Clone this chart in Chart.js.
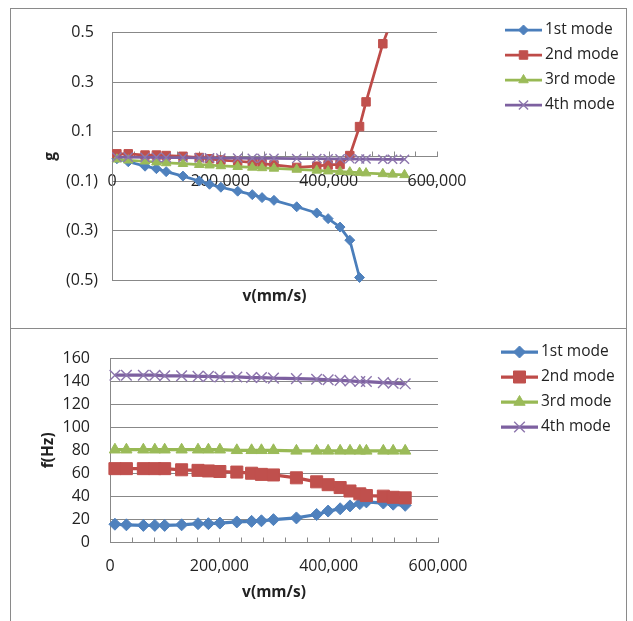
<!DOCTYPE html>
<html>
<head>
<meta charset="utf-8">
<script src="https://cdn.jsdelivr.net/npm/chart.js@4.4.1/dist/chart.umd.min.js"></script>
<style>
  body { margin: 0; background: #fff; }
  .panel { position: absolute; left: 10px; width: 617px; height: 321px; box-sizing: border-box; border: 1px solid #8a8a8a; background: #fff; }
  #p1 { top: 8px; }
  #p2 { top: 328px; }
  canvas { display: block; }
</style>
</head>
<body>
<div class="panel" id="p1"><canvas id="gChart" width="615" height="319"></canvas></div>
<div class="panel" id="p2"><canvas id="fChart" width="615" height="319"></canvas></div>
<script>
// flow speed v (mm/s), same for every mode
const speeds = [9000, 30000, 61000, 82000, 100000, 131000, 161000, 180000, 201000, 232000, 259000, 277000,
                299000, 341000, 378000, 399000, 421000, 439000, 457000, 469000, 500000, 518000, 540000];
const modeNames = ["1st mode", "2nd mode", "3rd mode", "4th mode"];
const xTicks = [0, 200000, 400000, 600000];

// damping g (1st mode stops at flutter)
const g1 = [-0.01, -0.022, -0.04, -0.05, -0.062, -0.08, -0.1, -0.113, -0.125, -0.141, -0.155, -0.167,
            -0.178, -0.204, -0.229, -0.252, -0.286, -0.339, -0.49];
const g2 = [0.01, 0.01, 0.005, 0.005, 0.003, 0, -0.005, -0.01, -0.015, -0.02, -0.025, -0.03,
            -0.035, -0.045, -0.04, -0.035, -0.033, 0.003, 0.12, 0.22, 0.455, 0.56, 0.7];
const g3 = [-0.012, -0.016, -0.02, -0.024, -0.027, -0.03, -0.034, -0.036, -0.039, -0.042, -0.045, -0.047,
            -0.049, -0.053, -0.057, -0.06, -0.062, -0.064, -0.066, -0.068, -0.071, -0.073, -0.075];
const g4 = [-0.003, -0.003, -0.004, -0.004, -0.005, -0.005, -0.006, -0.006, -0.007, -0.007, -0.008, -0.008,
            -0.008, -0.009, -0.009, -0.01, -0.01, -0.01, -0.011, -0.011, -0.012, -0.012, -0.012];
const gTicks = [-0.5, -0.3, -0.1, 0.1, 0.3, 0.5];

// frequency f (Hz)
const f1 = [15.5, 15, 14.5, 14.5, 14.5, 15, 16, 16, 16.5, 17.5, 18, 18.5,
            19.5, 21, 24, 27, 29, 31.5, 33.5, 35, 34, 33, 32];
const f2 = [64, 64, 64, 64, 64, 63, 62.5, 62, 61.5, 61, 60, 59,
            58.5, 56, 52.5, 50, 47.5, 44.5, 42, 40.5, 40, 39, 38.5];
const f3 = [80.5, 80.5, 80.5, 80.5, 80.5, 80.5, 80.5, 80.5, 80.5, 80, 80, 80,
            80, 79.5, 79.5, 79.5, 79.5, 79.5, 79.5, 79.5, 79.5, 79.5, 79.5];
const f4 = [145.5, 145.5, 145.5, 145.5, 145, 145, 144.5, 144.5, 144, 144, 143.5, 143.5,
            143, 142.5, 142, 141.5, 141, 140.5, 140, 140, 139, 138.5, 138];
const fTicks = [0, 20, 40, 60, 80, 100, 120, 140, 160];

const gridColor = "#888";
const textColor = "#222";
Chart.defaults.font.family = "'Open Sans', 'DejaVu Sans', sans-serif";
Chart.defaults.font.size = 16;
Chart.defaults.color = textColor;

const styles = [
  { line: "#4a7ebb", fill: "#4f81bd", border: "#4f81bd", shape: "rectRot" },
  { line: "#be4b48", fill: "#c0504d", border: "#c0504d", shape: "rect" },
  { line: "#98b954", fill: "#9bbb59", border: "#9bbb59", shape: "triangle" },
  { line: "#7d60a0", fill: "#8064a2", border: "#8d76ad", shape: "crossRot" }
];

function makeSets(series, radii, width) {
  return series.map((ys, i) => ({
    label: modeNames[i],
    data: ys.map((y, k) => ({ x: speeds[k], y: y })),
    xAxisID: "x",
    yAxisID: "y",
    showLine: true,
    borderColor: styles[i].line,
    backgroundColor: styles[i].fill,
    borderWidth: width,
    pointStyle: styles[i].shape,
    pointRadius: radii[i],
    pointBackgroundColor: styles[i].fill,
    pointBorderColor: styles[i].border,
    pointBorderWidth: i === 3 ? 1.4 : 1,
    tension: 0,
    order: 4 - i,
    clip: { left: 10, right: 10, top: 0, bottom: 10 }
  }));
}

// little inside tick marks on the v axis, every 40,000
const minorTicks = {
  id: "minorTicks",
  beforeDatasetsDraw(chart) {
    const ctx = chart.ctx, xs = chart.scales.x;
    const y0 = Math.round(chart.scales.y.getPixelForValue(0)) + 0.5;
    ctx.save();
    ctx.strokeStyle = gridColor;
    ctx.lineWidth = 1;
    ctx.beginPath();
    for (let v = 0; v <= 600000; v += 40000) {
      const px = Math.round(xs.getPixelForValue(v)) + 0.5;
      ctx.moveTo(px, y0);
      ctx.lineTo(px, y0 - 5);
    }
    ctx.stroke();
    ctx.restore();
  }
};

// Excel style legend: line + marker + text
const legendBox = {
  id: "legendBox",
  afterDraw(chart, args, opts) {
    const ctx = chart.ctx;
    chart.data.datasets.forEach((ds, i) => {
      const y = opts.y + i * opts.gap;
      ctx.save();
      ctx.strokeStyle = ds.borderColor;
      ctx.lineWidth = ds.borderWidth;
      ctx.beginPath();
      ctx.moveTo(opts.x, y);
      ctx.lineTo(opts.x + opts.len, y);
      ctx.stroke();
      ctx.fillStyle = ds.pointBackgroundColor;
      ctx.strokeStyle = ds.pointBorderColor;
      ctx.lineWidth = ds.pointBorderWidth;
      Chart.helpers.drawPoint(ctx, { pointStyle: ds.pointStyle, radius: ds.pointRadius,
        borderWidth: ds.pointBorderWidth, rotation: 0 }, opts.x + opts.len / 2, y);
      ctx.fillStyle = textColor;
      ctx.font = "15.5px 'Open Sans', sans-serif";
      ctx.textBaseline = "middle";
      ctx.textAlign = "left";
      ctx.fillText(ds.label, opts.x + opts.len + 3, y);
      ctx.restore();
    });
  }
};

const titleFont = { weight: "bold", size: 15.5 };

new Chart(document.getElementById("gChart"), {
  type: "scatter",
  data: { datasets: makeSets([g1, g2, g3, g4], [5, 6, 5.5, 6.5], 2.75) },
  plugins: [minorTicks, legendBox],
  options: {
    responsive: false,
    animation: false,
    layout: { padding: { left: 25, top: 18, right: 189, bottom: 18 } },
    plugins: {
      legend: { display: false },
      tooltip: { enabled: false },
      legendBox: { x: 494, y: 21, gap: 25, len: 37 }
    },
    scales: {
      x: {
        type: "linear", position: { y: 0 }, min: 0, max: 600000,
        afterBuildTicks: s => { s.ticks = xTicks.map(v => ({ value: v })); },
        ticks: { padding: 16, maxRotation: 0, autoSkip: false, callback: v => v.toLocaleString("en-US") },
        grid: { drawOnChartArea: false, drawTicks: false },
        border: { color: gridColor, width: 1 }
      },
      xt: {
        type: "linear", position: "bottom",
        ticks: { display: false },
        grid: { display: false, drawTicks: false },
        border: { display: false },
        title: { display: true, text: "v(mm/s)", font: titleFont, padding: { top: 0, bottom: 4 } },
        afterFit: s => { s.height = 30; }
      },
      y: {
        type: "linear", min: -0.5, max: 0.5,
        afterBuildTicks: s => { s.ticks = gTicks.map(v => ({ value: v })); },
        ticks: { padding: 14, callback: v => v < 0 ? "(" + (-v).toFixed(1) + ")" : v.toFixed(1) + " " },
        grid: { color: gridColor, drawTicks: false },
        border: { color: gridColor, width: 1 },
        title: { display: true, text: "g", font: titleFont, padding: { top: 5, bottom: 0 } },
        afterFit: s => { s.width = 76; }
      }
    }
  }
});

new Chart(document.getElementById("fChart"), {
  type: "scatter",
  data: { datasets: makeSets([f1, f2, f3, f4], [6, 8.5, 6.5, 7.5], 3.25) },
  plugins: [minorTicks, legendBox],
  options: {
    responsive: false,
    animation: false,
    layout: { padding: { left: 25, top: 19, right: 188, bottom: 42 } },
    plugins: {
      legend: { display: false },
      tooltip: { enabled: false },
      legendBox: { x: 490, y: 23, gap: 25, len: 37 }
    },
    scales: {
      x: {
        type: "linear", position: "bottom", min: 0, max: 600000,
        afterBuildTicks: s => { s.ticks = xTicks.map(v => ({ value: v })); },
        ticks: { padding: 15, maxRotation: 0, autoSkip: false, callback: v => v.toLocaleString("en-US") },
        grid: { drawOnChartArea: false, drawTicks: false },
        border: { color: gridColor, width: 1 },
        title: { display: true, text: "v(mm/s)", font: titleFont, padding: { top: 0, bottom: 4 } },
        afterFit: s => { s.height = 64; }
      },
      y: {
        type: "linear", min: 0, max: 160,
        afterBuildTicks: s => { s.ticks = fTicks.map(v => ({ value: v })); },
        ticks: { padding: 20 },
        grid: { color: gridColor, drawTicks: false },
        border: { color: gridColor, width: 1 },
        title: { display: true, text: "f(Hz)", font: titleFont, padding: { top: 3, bottom: 0 } },
        afterFit: s => { s.width = 74; }
      }
    }
  }
});
</script>
</body>
</html>
